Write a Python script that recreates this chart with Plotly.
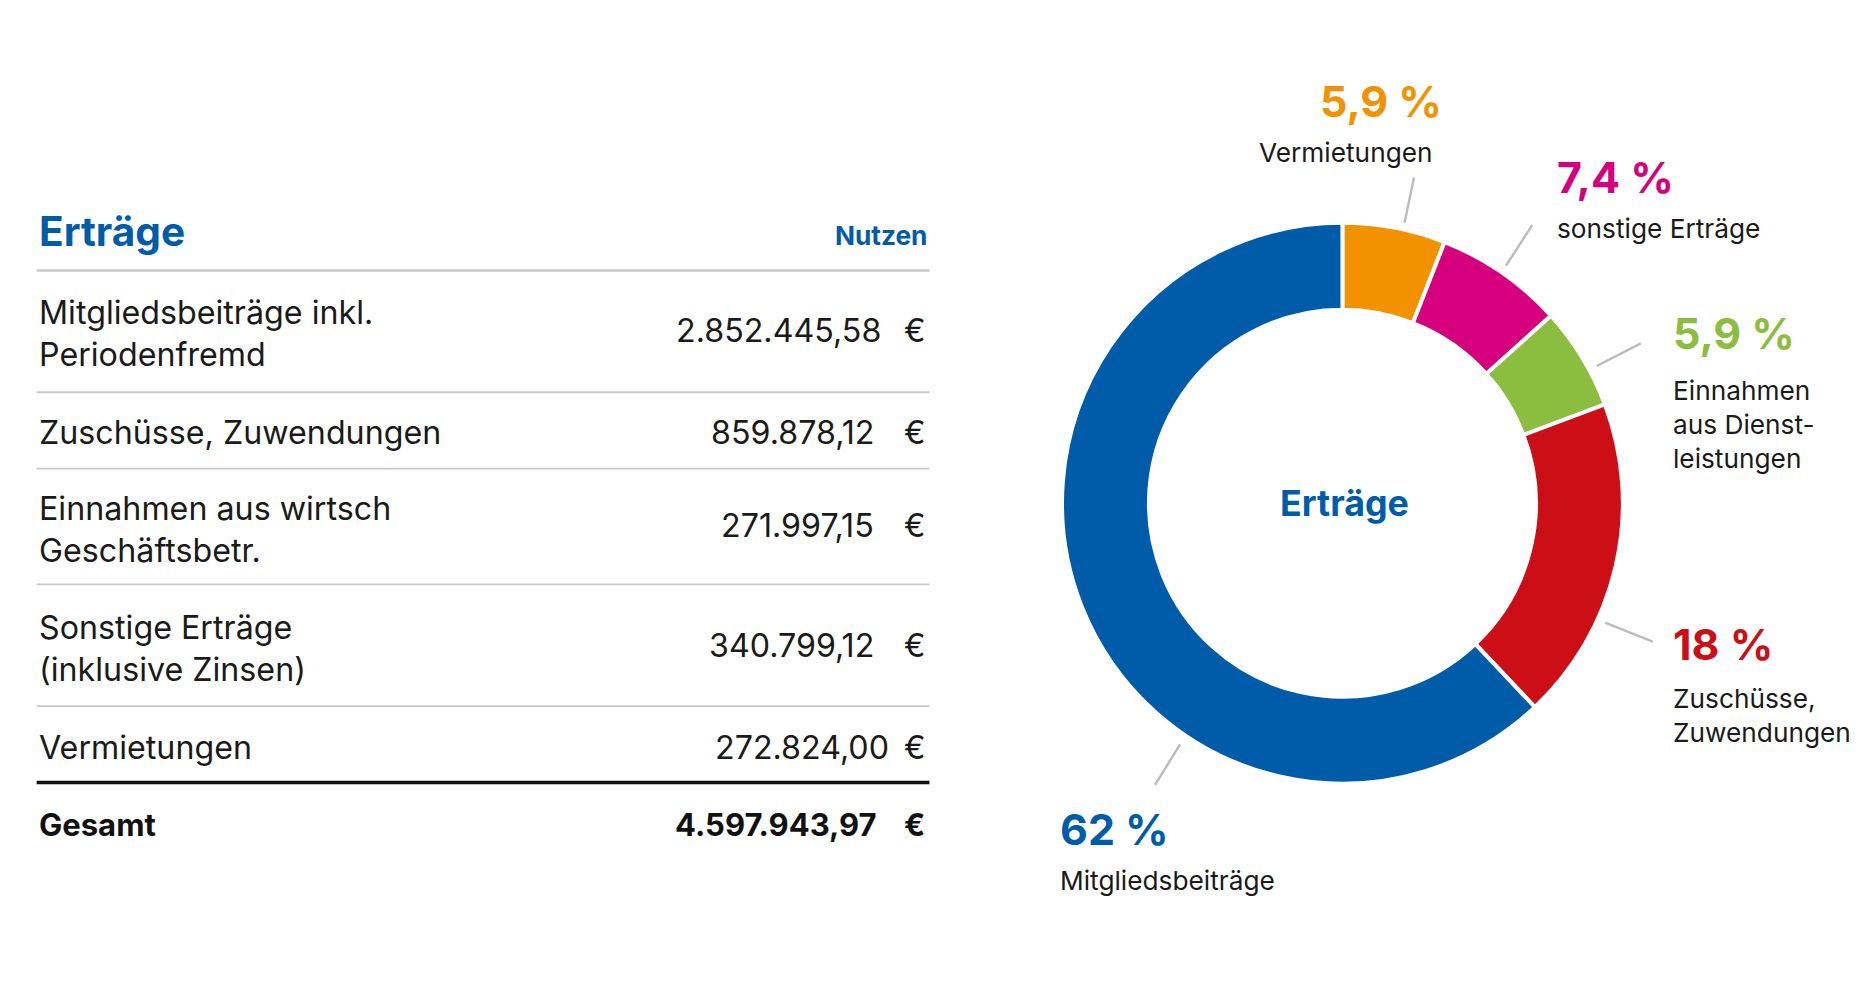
import plotly.graph_objects as go

# data
labels = ["Vermietungen", "sonstige Erträge", "Einnahmen aus Dienstleistungen",
          "Zuschüsse, Zuwendungen", "Mitgliedsbeiträge"]
values = [272824.00, 340799.12, 271997.15, 859878.12, 2852445.58]
colors = ["#f39200", "#d6007e", "#8bbd3f", "#cc0e17", "#005ca9"]
pct_text = ["5,9 %", "7,4 %", "5,9 %", "18 %", "62 %"]
name_text = ["Vermietungen", "sonstige Erträge", "Einnahmen<br>aus Dienst-<br>leistungen",
             "Zuschüsse,<br>Zuwendungen", "Mitgliedsbeiträge"]

row_names = ["Mitgliedsbeiträge inkl.<br>Periodenfremd", "Zuschüsse, Zuwendungen",
             "Einnahmen aus wirtsch<br>Geschäftsbetr.", "Sonstige Erträge<br>(inklusive Zinsen)",
             "Vermietungen"]
row_values = ["2.852.445,58", "859.878,12", "271.997,15", "340.799,12", "272.824,00"]
total = "4.597.943,97"

W, H = 1560, 838
S = 1862 / 1560
FONT = "Inter, Roboto, sans-serif"
BLUE = "#005ca9"


def px(x, y):
    return x / W, 1 - y / H


fig = go.Figure()
fig.add_trace(go.Pie(values=values, labels=labels, hole=0.69, sort=False,
                     direction="clockwise", rotation=0,
                     marker=dict(colors=colors, line=dict(color="white", width=4)),
                     textinfo="none", hoverinfo="label+percent",
                     domain=dict(x=[883 / W, 1353 / W], y=[1 - 650 / H, 1 - 180 / H]),
                     showlegend=False))

ann = []
shapes = []


def text(x, y, s, size, color="#1a1a1a", bold=False, xanchor="left"):
    xx, yy = px(x, y)
    ann.append(dict(x=xx, y=yy, xref="paper", yref="paper", text=s, showarrow=False,
                    xanchor=xanchor, yanchor="middle", align=xanchor if xanchor != "center" else "center",
                    font=dict(family=FONT, size=size * S, color=color,
                              weight="bold" if bold else "normal")))


def line(x0, y0, x1, y1, color, width):
    a, b = px(x0, y0)
    c, d = px(x1, y1)
    shapes.append(dict(type="line", xref="paper", yref="paper", x0=a, y0=b, x1=c, y1=d,
                       line=dict(color=color, width=width * S)))


# table
text(24, 187, "Erträge", 34, BLUE, True)
text(772, 191, "Nutzen", 22, BLUE, True, "right")
line(24, 220, 772, 220, "#c8c8c8", 2)
row_y = [273, 356, 437, 537, 620]
row_val_x = [733, 727, 727, 727, 740]
sep_y = [322, 386, 483, 585]
for i in range(5):
    text(24, row_y[i], row_names[i], 27)
    text(row_val_x[i], row_y[i] - 3 if i in (0, 2, 3) else row_y[i], row_values[i], 27, xanchor="right")
    text(770, row_y[i] - 3 if i in (0, 2, 3) else row_y[i], "€", 27, xanchor="right")
for y in sep_y:
    line(24, y, 772, y, "#c8c8c8", 1.5)
line(24, 649, 772, 649, "#111111", 3)
text(24, 684, "Gesamt", 26, "#111111", True)
text(730, 684, total, 26, "#111111", True, "right")
text(770, 684, "€", 26, "#111111", True, "right")

# donut center + labels
text(1120, 415, "Erträge", 30, BLUE, True, "center")
lab_pos = [(1150, 78, "center", 1121, 121), (1296, 142, "left", 1296, 185),
           (1393, 272, "left", 1393, 349), (1393, 533, "left", 1393, 593),
           (880, 688, "left", 880, 731)]
for i, (x, y, anc, nx, ny) in enumerate(lab_pos):
    text(x, y, pct_text[i], 36, colors[i], True, anc)
    text(nx, ny, name_text[i], 22, "#1a1a1a", False, "center" if anc == "center" else "left")

line(1178, 142, 1170, 180, "#bbbbbb", 2)
line(1277, 182, 1255, 216, "#bbbbbb", 2)
line(1368, 281, 1331, 300, "#bbbbbb", 2)
line(1378, 531, 1338, 515, "#bbbbbb", 2)
line(982, 617, 961, 651, "#bbbbbb", 2)

fig.update_layout(width=1862, height=1000, margin=dict(l=0, r=0, t=0, b=0),
                  paper_bgcolor="white", plot_bgcolor="white",
                  annotations=ann, shapes=shapes)
fig.write_html("out.html")
